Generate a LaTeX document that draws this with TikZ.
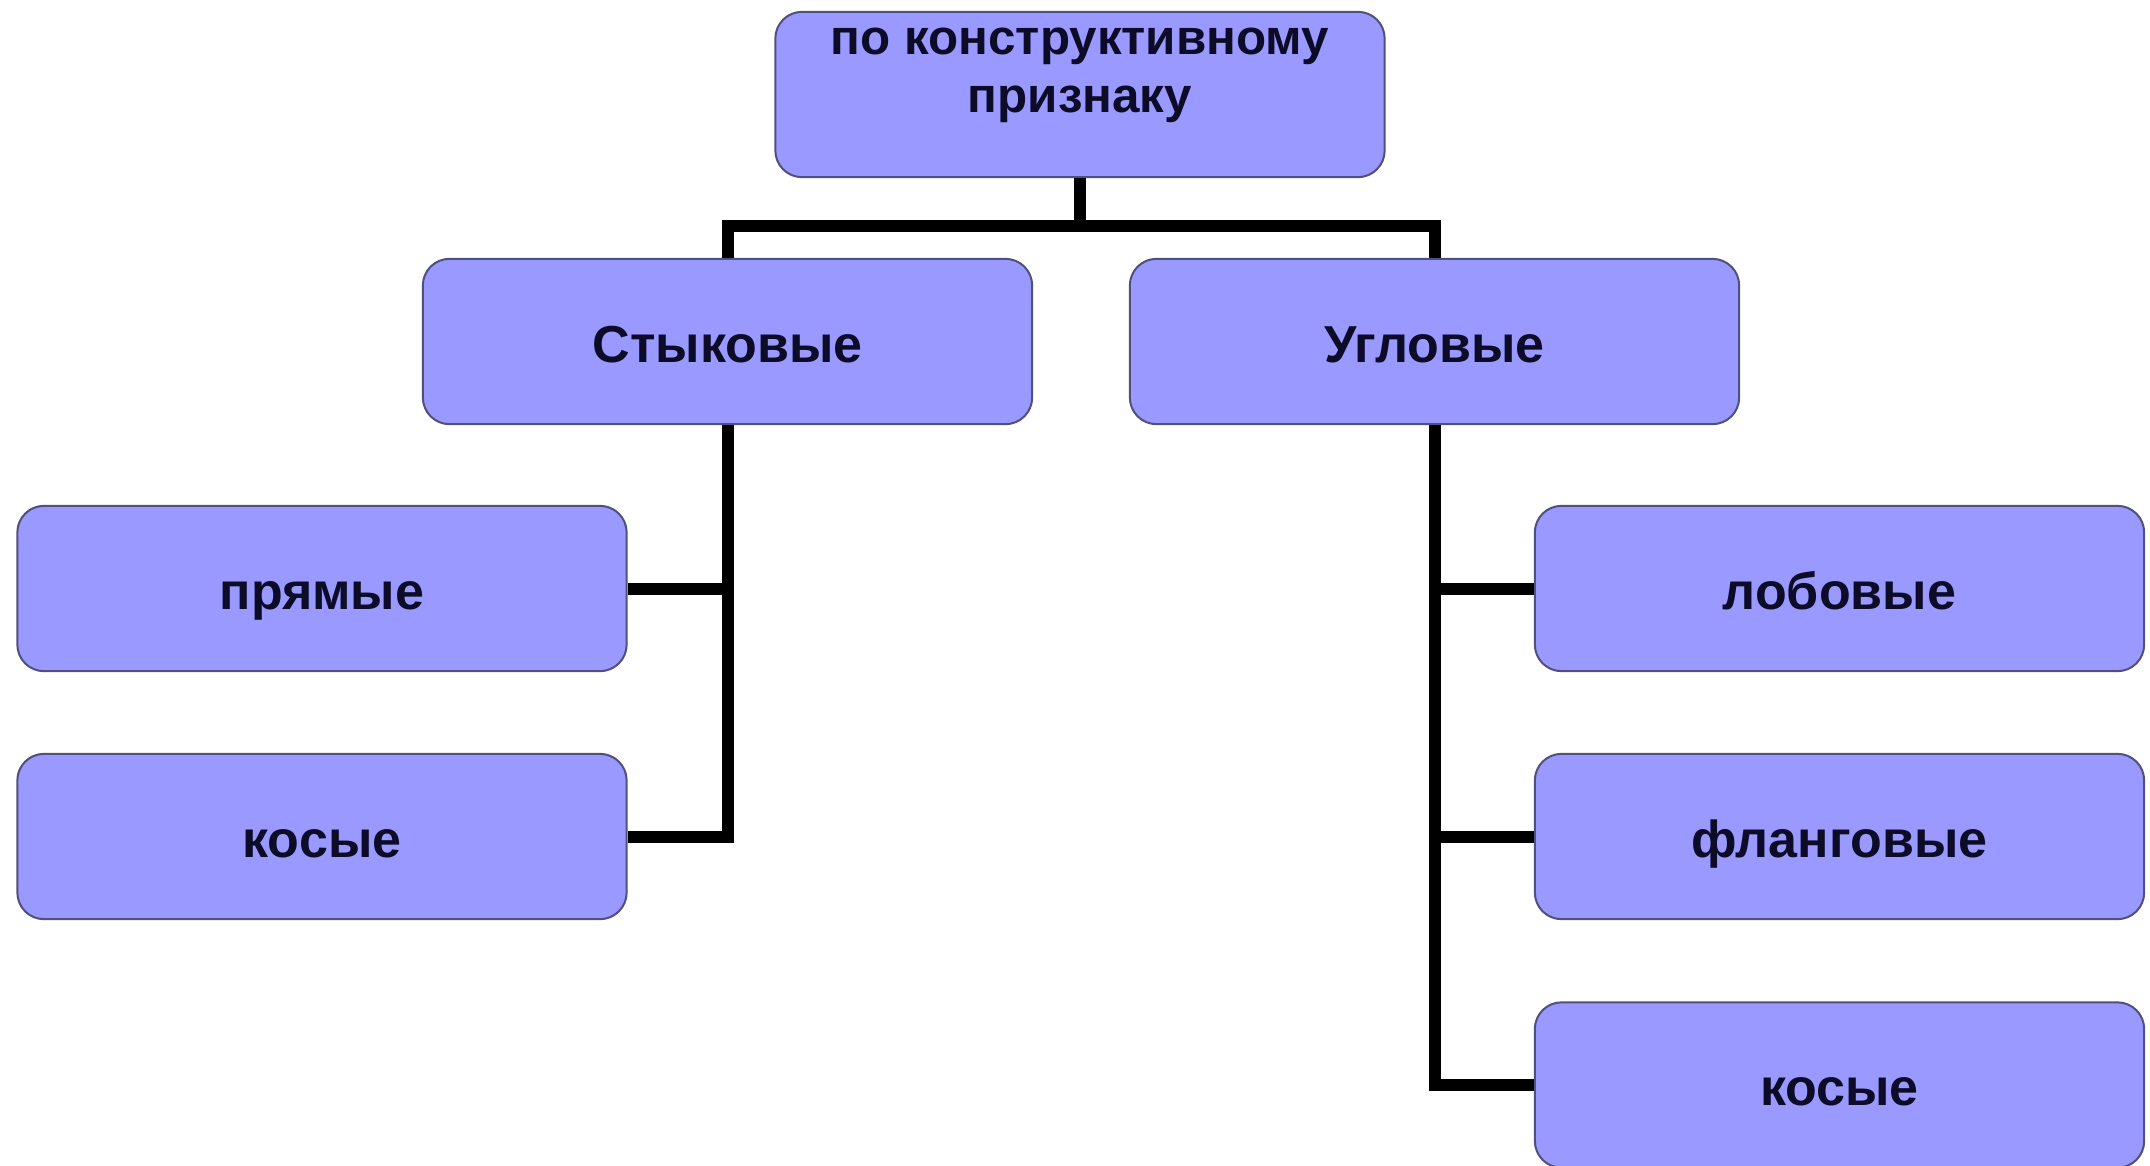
\documentclass[tikz,border=0pt]{standalone}
\usepackage{fontspec}
\setmainfont{Liberation Sans}
\definecolor{boxfill}{RGB}{153,153,255}
\definecolor{boxline}{RGB}{80,80,125}
\definecolor{boxtext}{RGB}{12,12,40}
\tikzset{
  kbox/.style={draw=boxline, line width=1.5pt, fill=boxfill, rounded corners=20pt,
    minimum width=457pt, minimum height=124pt, inner sep=0pt, text=boxtext,
    text height=33pt, text depth=2pt,
    font=\bfseries\fontsize{39}{45}\selectfont},
  topbox/.style={kbox, text height=, text depth=,
    font=\bfseries\fontsize{37}{43.5}\selectfont},
  link/.style={draw=black, line width=9pt}
}
\begin{document}
\begin{tikzpicture}[x=0.75pt,y=0.75pt,yscale=-1,xscale=1]
\useasboundingbox (0,0) rectangle (2150,1165);

% Rounded Rect
\node [topbox] (top) at (1080,94.5) {\parbox[c][124pt][t]{457pt}{\centering\rule{0pt}{32pt}по конструктивному\\признаку}};
% Rounded Rect
\node [kbox] (styk) at (727.5,341.5) {Стыковые};
% Rounded Rect
\node [kbox] (ugl) at (1434.5,341.5) {Угловые};
% Rounded Rect
\node [kbox] (pryam) at (322,588.5) {прямые};
% Rounded Rect
\node [kbox] (kosL) at (322,836.5) {косые};
% Rounded Rect
\node [kbox] (lob) at (1839.5,588.5) {лобовые};
% Rounded Rect
\node [kbox] (flang) at (1839.5,836.5) {фланговые};
% Rounded Rect
\node [kbox] (kosR) at (1839.5,1085) {косые};

% Straight Lines
\coordinate (hub) at (1080,226);
\draw [link] (top.south) -- (hub);
\draw [link] (styk.north) |- (hub) -| (ugl.north);
% Straight Lines
\draw [link] (styk.south) |- (kosL.east);
\draw [link] (pryam.east) -- (pryam.east -| styk.south);
% Straight Lines
\draw [link] (ugl.south) |- (kosR.west);
\draw [link] (lob.west) -- (lob.west -| ugl.south);
\draw [link] (flang.west) -- (flang.west -| ugl.south);

\end{tikzpicture}
\end{document}
